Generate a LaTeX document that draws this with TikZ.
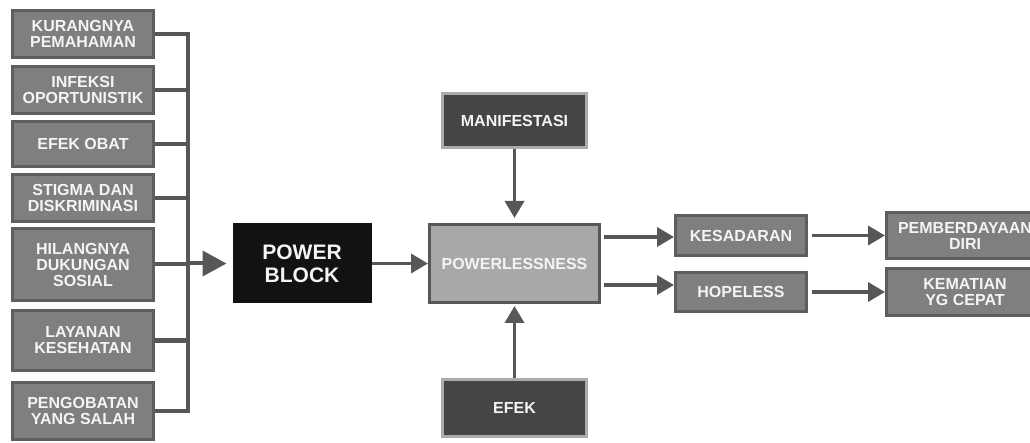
\documentclass[tikz,border=0pt]{standalone}
\usepackage{fontspec}
\setmainfont{Liberation Sans}
\usepackage{tikz}
\usetikzlibrary{positioning, calc, arrows.meta}
\definecolor{boxgray}{HTML}{7F7F7F}
\definecolor{edgegray}{HTML}{5E5E5E}
\definecolor{linegray}{HTML}{575757}
\definecolor{darkbox}{HTML}{454545}
\definecolor{lightedge}{HTML}{ABABAB}
\definecolor{midbox}{HTML}{A8A8A8}
\definecolor{blackbox}{HTML}{121212}
\definecolor{labelwhite}{HTML}{F4F4F4}
\tikzset{cause/.style={draw=edgegray, fill=boxgray, line width=3pt, text=labelwhite, align=center,
    inner sep=0pt, font=\bfseries\fontsize{16}{16}\selectfont}}
\tikzset{effect/.style={cause, draw=lightedge, fill=darkbox}}
\tikzset{link/.style={draw=linegray, line width=4pt}}
\tikzset{arr/.style={draw=linegray, line width=3.5pt, -{Triangle[length=17pt, width=19pt]}}}

\begin{document}
\begin{tikzpicture}[x=1pt, y=-1pt]
      \useasboundingbox[fill=white] (0,0) rectangle (1030,443);

      \node[cause, minimum width=141, minimum height=47] (c1) at (83,34) {KURANGNYA\\PEMAHAMAN};
      \node[cause, minimum width=141, minimum height=47] (c2) at (83,90) {INFEKSI\\OPORTUNISTIK};
      \node[cause, minimum width=141, minimum height=45] (c3) at (83,144) {EFEK OBAT};
      \node[cause, minimum width=141, minimum height=47] (c4) at (83,198) {STIGMA DAN\\DISKRIMINASI};
      \node[cause, minimum width=141, minimum height=72] (c5) at (83,264.5) {HILANGNYA\\DUKUNGAN\\SOSIAL};
      \node[cause, minimum width=141, minimum height=60] (c6) at (83,340.5) {LAYANAN\\KESEHATAN};
      \node[cause, minimum width=141, minimum height=57] (c7) at (83,411) {PENGOBATAN\\YANG SALAH};

      \coordinate (bus) at (188,0);
      \draw[link] (c1.east) -| (bus |- c7.east) -- (c7.east);
      \foreach \i in {2,...,6}
        \draw[link] (c\i.east) -- (c\i.east -| bus);

      \node[cause, draw=blackbox, fill=blackbox, minimum width=136, minimum height=77,
        font=\bfseries\fontsize{21}{23}\selectfont] (pb) at (302,263.5) {POWER\\BLOCK};
      \draw[draw=linegray, line width=4pt, -{Triangle[length=24pt, width=25pt]}, shorten >=6pt]
        (bus |- pb.west) -- (pb.west);

      \node[cause, draw=linegray, fill=midbox, minimum width=170, minimum height=78] (pl) at (514.5,263.5) {POWERLESSNESS};
      \node[effect, minimum width=144, minimum height=54] (man) at (514.5,120.5) {MANIFESTASI};
      \node[effect, minimum width=144, minimum height=57] (efek) at (514.5,408) {EFEK};

      \draw[arr] (pb) -- (pl);
      \draw[arr, shorten >=5pt] (man) -- (pl);
      \draw[arr, shorten >=2pt] (efek) -- (pl);

      \node[cause, minimum width=131, minimum height=40] (kes) at (741,235.5) {KESADARAN};
      \node[cause, minimum width=131, minimum height=39] (hop) at (741,292) {HOPELESS};
      \node[cause, minimum width=157, minimum height=46] (pem) at (965,235.5) {PEMBERDAYAAN\\DIRI};
      \node[cause, minimum width=157, minimum height=47] (kem) at (965,292) {KEMATIAN\\YG CEPAT};

      \draw[arr, shorten <=3pt] ($(kes.west -| pl.east)+(0,1.5)$) -- ($(kes.west)+(0,1.5)$);
      \draw[arr, shorten <=3pt] ($(hop.west -| pl.east)+(0,-7)$) -- ($(hop.west)+(0,-7)$);
      \draw[arr, shorten <=4pt] (kes) -- (pem);
      \draw[arr, shorten <=4pt] (hop) -- (kem);
\end{tikzpicture}
\end{document}
